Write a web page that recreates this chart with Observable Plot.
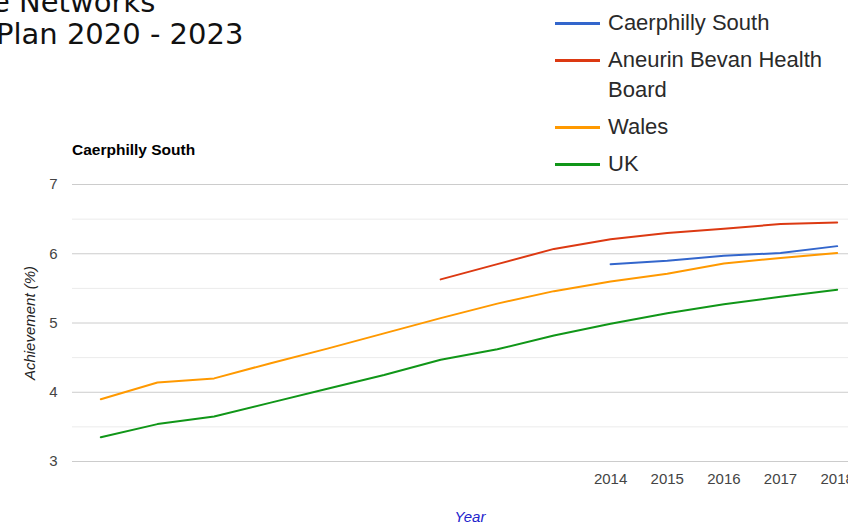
<!DOCTYPE html>
<html>
<head>
<meta charset="utf-8">
<script src="https://cdn.jsdelivr.net/npm/d3@7"></script>
<script src="https://cdn.jsdelivr.net/npm/@observablehq/plot@0.6"></script>
<style>
  html, body { margin: 0; padding: 0; background: #fff; overflow: hidden; width: 848px; height: 523px; }
  #wrap { position: relative; width: 848px; height: 523px; overflow: hidden; }
  #wrap svg { position: absolute; left: 0; top: 0; }
  .pt { position: absolute; font-family: "DejaVu Sans", sans-serif; font-size: 29px; color: #111; white-space: nowrap; line-height: 33px; }
  .ctitle { position: absolute; left: 72px; top: 141px; font-family: "Liberation Sans", Arial, sans-serif; font-weight: bold; font-size: 15.5px; color: #000; white-space: nowrap; }
  .ylab { position: absolute; left: 29px; top: 323px; transform: translate(-50%, -50%) rotate(-90deg); font-family: "Liberation Sans", Arial, sans-serif; font-style: italic; font-size: 15px; color: #222; white-space: nowrap; }
  .xlab { position: absolute; left: 470px; top: 508px; transform: translateX(-50%); font-family: "Liberation Sans", Arial, sans-serif; font-style: italic; font-size: 15px; color: #2222cc; white-space: nowrap; }
  #legend { position: absolute; left: 555px; top: 8px; display: flex; flex-direction: column; gap: 7px; font-family: "Liberation Sans", Arial, sans-serif; font-size: 22px; line-height: 30px; color: #2a2a2a; }
  .li { display: flex; align-items: flex-start; }
  .sw { width: 45px; height: 3px; margin-top: 14px; margin-right: 8px; flex: none; }
  .lt { width: 232px; }
</style>
</head>
<body>
<div id="wrap"></div>
<script>
// ---- data ----
const seriesNames = ["Caerphilly South", "Aneurin Bevan Health Board", "Wales", "UK"];
const seriesColors = ["#3366cc", "#dc3912", "#ff9900", "#109618"];

const allYears = [2005, 2006, 2007, 2008, 2009, 2010, 2011, 2012, 2013, 2014, 2015, 2016, 2017, 2018];
const ukValues = [3.35, 3.54, 3.65, 3.85, 4.05, 4.25, 4.47, 4.62, 4.82, 4.99, 5.14, 5.27, 5.38, 5.48];
const walesValues = [3.90, 4.14, 4.20, 4.42, 4.63, 4.85, 5.07, 5.28, 5.46, 5.60, 5.71, 5.86, 5.94, 6.01];

const abYears = [2011, 2012, 2013, 2014, 2015, 2016, 2017, 2018];
const abValues = [5.63, 5.85, 6.07, 6.21, 6.30, 6.36, 6.43, 6.45];

const csYears = [2014, 2015, 2016, 2017, 2018];
const csValues = [5.85, 5.90, 5.97, 6.01, 6.11];

const xTickLabels = [2014, 2015, 2016, 2017, 2018];
const yMajorTicks = [3, 4, 5, 6, 7];
const yMinorTicks = [3.5, 4.5, 5.5, 6.5];

const pageTitleLines = ["e Networks", "Plan 2020 - 2023"];
const chartTitle = "Caerphilly South";
const yLabel = "Achievement (%)";
const xLabel = "Year";

// ---- build table ----
const rows = [
  ...csYears.map((yr, i) => ({series: seriesNames[0], year: yr, value: csValues[i]})),
  ...abYears.map((yr, i) => ({series: seriesNames[1], year: yr, value: abValues[i]})),
  ...allYears.map((yr, i) => ({series: seriesNames[2], year: yr, value: walesValues[i]})),
  ...allYears.map((yr, i) => ({series: seriesNames[3], year: yr, value: ukValues[i]}))
];
const drawOrder = [...seriesNames].reverse();

const chart = Plot.plot({
  width: 848,
  height: 523,
  marginLeft: 72,
  marginRight: 0,
  marginTop: 184,
  marginBottom: 62,
  style: {fontFamily: "'Liberation Sans', Arial, sans-serif", fontSize: "15px", overflow: "visible", background: "transparent"},
  x: {domain: [2004.5, 2018.2]},
  y: {domain: [3, 7]},
  color: {domain: seriesNames, range: seriesColors},
  marks: [
    Plot.ruleY(yMinorTicks, {stroke: "#ebebeb", strokeWidth: 1, strokeOpacity: 1}),
    Plot.ruleY(yMajorTicks, {stroke: "#cccccc", strokeWidth: 1, strokeOpacity: 1}),
    Plot.axisY({ticks: yMajorTicks, tickSize: 0, tickPadding: 15, label: null, tickFormat: d => String(d), fill: "#444", fontSize: 15}),
    Plot.axisX({ticks: xTickLabels, tickSize: 0, tickPadding: 12, label: null, tickFormat: d => String(d), fill: "#444", fontSize: 15}),
    ...drawOrder.map(name => Plot.line(rows.filter(r => r.series === name), {
      x: "year", y: "value", stroke: "series", strokeWidth: 2, curve: "linear"
    }))
  ]
});

const wrap = document.getElementById("wrap");
wrap.appendChild(chart);

const t1 = document.createElement("div");
t1.className = "pt"; t1.style.left = "-8px"; t1.style.top = "-14px"; t1.textContent = pageTitleLines[0];
wrap.appendChild(t1);
const t2 = document.createElement("div");
t2.className = "pt"; t2.style.left = "-4px"; t2.style.top = "18px"; t2.textContent = pageTitleLines[1];
wrap.appendChild(t2);

const ct = document.createElement("div");
ct.className = "ctitle"; ct.textContent = chartTitle;
wrap.appendChild(ct);

const yl = document.createElement("div");
yl.className = "ylab"; yl.textContent = yLabel;
wrap.appendChild(yl);

const xl = document.createElement("div");
xl.className = "xlab"; xl.textContent = xLabel;
wrap.appendChild(xl);

const lg = document.createElement("div");
lg.id = "legend";
seriesNames.forEach((name, i) => {
  const li = document.createElement("div"); li.className = "li";
  const sw = document.createElement("div"); sw.className = "sw"; sw.style.background = seriesColors[i];
  const lt = document.createElement("div"); lt.className = "lt"; lt.textContent = name;
  li.appendChild(sw); li.appendChild(lt); lg.appendChild(li);
});
wrap.appendChild(lg);
</script>
</body>
</html>
